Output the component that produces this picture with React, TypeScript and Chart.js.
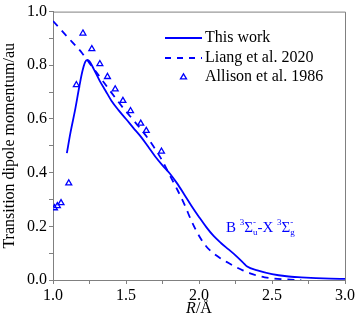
import React, { useEffect, useRef } from "react";
import { Chart, registerables } from "chart.js";
Chart.register(...registerables);

const thisWorkR = [1.095, 1.12, 1.15, 1.18, 1.2, 1.22, 1.235, 1.25, 1.28, 1.32, 1.36, 1.4, 1.45, 1.5, 1.55, 1.6, 1.65, 1.7, 1.75, 1.8, 1.85, 1.9, 1.95, 2.0, 2.05, 2.1, 2.15, 2.2, 2.25, 2.3, 2.33, 2.4, 2.5, 2.6, 2.7, 2.8, 2.9, 3.0];
const thisWorkV = [0.473, 0.55, 0.63, 0.72, 0.775, 0.812, 0.82, 0.815, 0.785, 0.742, 0.705, 0.668, 0.632, 0.6, 0.567, 0.535, 0.498, 0.46, 0.427, 0.397, 0.36, 0.318, 0.275, 0.235, 0.197, 0.164, 0.138, 0.115, 0.092, 0.066, 0.05, 0.036, 0.022, 0.014, 0.01, 0.007, 0.005, 0.004];

const liangR = [1.0, 1.1, 1.2, 1.25, 1.3, 1.35, 1.4, 1.45, 1.5, 1.55, 1.6, 1.65, 1.7, 1.75, 1.8, 1.85, 1.9, 1.95, 2.0, 2.05, 2.1, 2.15, 2.2, 2.25, 2.3, 2.35, 2.4, 2.45, 2.5, 2.6, 2.7];
const liangV = [0.965, 0.905, 0.845, 0.808, 0.772, 0.735, 0.698, 0.662, 0.628, 0.596, 0.563, 0.528, 0.488, 0.443, 0.39, 0.338, 0.282, 0.218, 0.165, 0.125, 0.099, 0.08, 0.064, 0.049, 0.036, 0.025, 0.016, 0.01, 0.006, 0.002, 0.0];

const allisonR = [1.01, 1.03, 1.055, 1.108, 1.16, 1.205, 1.266, 1.321, 1.373, 1.426, 1.479, 1.531, 1.601, 1.639, 1.743];
const allisonV = [0.268, 0.276, 0.287, 0.361, 0.727, 0.919, 0.861, 0.805, 0.757, 0.711, 0.668, 0.63, 0.583, 0.556, 0.479];

const xTickValues = [1.0, 1.25, 1.5, 1.75, 2.0, 2.25, 2.5, 2.75, 3.0];
const legendLabels = ["This work", "Liang et al. 2020", "Allison et al. 1986"];
const yTitle = "Transition dipole momentum/au";

const BLUE = "rgb(0,0,255)";
const GRAY = "#808080";
const SERIF = "\"Liberation Serif\", \"DejaVu Serif\", \"Times New Roman\", Times, serif";

const pts = (xs: number[], ys: number[]) => xs.map((x, i) => ({ x, y: ys[i] }));

export default function App() {
  const ref = useRef<HTMLCanvasElement>(null);
  useEffect(() => {
    document.body.style.margin = "0";
    const extras = {
      id: "extras",
      afterDraw(chart: any) {
        const ctx = chart.ctx as CanvasRenderingContext2D;
        const a = chart.chartArea;
        ctx.save();
        ctx.strokeStyle = GRAY;
        ctx.lineWidth = 1;
        ctx.beginPath();
        ctx.moveTo(a.left, a.top + 0.5);
        ctx.lineTo(a.right + 0.5, a.top + 0.5);
        ctx.lineTo(a.right + 0.5, a.bottom);
        ctx.stroke();

        // x title
        ctx.fillStyle = "#000";
        ctx.textBaseline = "middle";
        ctx.textAlign = "left";
        const r = "R";
        const rest = "/Å";
        ctx.font = `16px ${SERIF}`;
        const wRest = ctx.measureText(rest).width;
        ctx.font = `italic 16px ${SERIF}`;
        const wR = ctx.measureText(r).width;
        const cx = (a.left + a.right) / 2;
        const ty = 309;
        const x0 = cx - (wR + wRest) / 2;
        ctx.fillText(r, x0, ty);
        ctx.font = `16px ${SERIF}`;
        ctx.fillText(rest, x0 + wR, ty);

        // legend
        const lx0 = 165, lx1 = 202, tx = 205;
        const ly = [38, 58, 77];
        ctx.strokeStyle = BLUE;
        ctx.lineWidth = 1.8;
        ctx.beginPath();
        ctx.moveTo(lx0, ly[0]);
        ctx.lineTo(lx1, ly[0]);
        ctx.stroke();
        ctx.setLineDash([6, 6]);
        ctx.beginPath();
        ctx.moveTo(lx0, ly[1]);
        ctx.lineTo(lx1, ly[1]);
        ctx.stroke();
        ctx.setLineDash([]);
        ctx.lineWidth = 1.3;
        const tcx = 183.5, tcy = ly[2], s = 3.2;
        ctx.beginPath();
        ctx.moveTo(tcx, tcy - s);
        ctx.lineTo(tcx + s * 0.95, tcy + s * 0.6);
        ctx.lineTo(tcx - s * 0.95, tcy + s * 0.6);
        ctx.closePath();
        ctx.stroke();
        ctx.fillStyle = "#000";
        ctx.font = `16px ${SERIF}`;
        legendLabels.forEach((t, i) => ctx.fillText(t, tx, ly[i]));

        // annotation
        ctx.fillStyle = BLUE;
        ctx.textBaseline = "alphabetic";
        const base = 232;
        let x = 226;
        const big = `15px ${SERIF}`;
        const small = `9px ${SERIF}`;
        const draw = (t: string, font: string, dy: number) => {
          ctx.font = font;
          ctx.fillText(t, x, base + dy);
          return ctx.measureText(t).width;
        };
        x += draw("B ", big, 0);
        x += draw("3", small, -7);
        x += draw("Σ", big, 0);
        let w1 = draw("u", small, 3);
        let w2 = draw("-", small, -7);
        x += Math.max(w1, w2);
        x += draw("-X ", big, 0);
        x += draw("3", small, -7);
        x += draw("Σ", big, 0);
        draw("g", small, 3);
        draw("-", small, -7);
        ctx.restore();
      },
    };

    const chart = new Chart(ref.current!, {
      type: "scatter",
      data: {
        datasets: [
          {
            label: legendLabels[0],
            data: pts(thisWorkR, thisWorkV),
            showLine: true,
            borderColor: BLUE,
            borderWidth: 1.8,
            pointRadius: 0,
            cubicInterpolationMode: "monotone",
          },
          {
            label: legendLabels[1],
            data: pts(liangR, liangV),
            showLine: true,
            borderColor: BLUE,
            borderWidth: 1.8,
            borderDash: [7, 6],
            pointRadius: 0,
            cubicInterpolationMode: "monotone",
          },
          {
            label: legendLabels[2],
            data: pts(allisonR, allisonV),
            showLine: false,
            pointStyle: "triangle",
            pointRadius: 3.4,
            borderColor: BLUE,
            backgroundColor: "rgba(0,0,0,0)",
            pointBorderWidth: 1.3,
          } as any,
        ],
      },
      options: {
        responsive: false,
        animation: false,
        devicePixelRatio: 1,
        layout: { padding: { top: 6, right: 9, left: 0, bottom: 0 } },
        plugins: { legend: { display: false }, tooltip: { enabled: false } },
        scales: {
          x: {
            type: "linear",
            min: 1,
            max: 3,
            afterFit: (s: any) => { s.height = 45; },
            afterBuildTicks: (s: any) => { s.ticks = xTickValues.map((v) => ({ value: v })); },
            ticks: {
              autoSkip: false,
              maxRotation: 0,
              padding: 2,
              color: "#000",
              font: { family: SERIF, size: 16 },
              callback: (v: any) => (Math.abs((Number(v) * 2) % 1) < 1e-6 ? Number(v).toFixed(1) : ""),
            },
            grid: { drawOnChartArea: false, drawTicks: true, tickLength: 4, color: GRAY },
            border: { color: GRAY, width: 1 },
          },
          y: {
            type: "linear",
            min: 0,
            max: 1,
            afterFit: (s: any) => { s.width = 53; },
            ticks: {
              stepSize: 0.1,
              autoSkip: false,
              padding: 2,
              color: "#000",
              font: { family: SERIF, size: 16 },
              callback: (v: any) => (Math.round(Number(v) * 10) % 2 === 0 ? Number(v).toFixed(1) : ""),
            },
            grid: { drawOnChartArea: false, drawTicks: true, tickLength: 4, color: GRAY },
            border: { color: GRAY, width: 1 },
            title: {
              display: true,
              text: yTitle,
              color: "#000",
              font: { family: SERIF, size: 16 },
              padding: { top: 0, bottom: 0 },
            },
          },
        },
      },
      plugins: [extras],
    } as any);
    let alive = true;
    if ((document as any).fonts && (document as any).fonts.load) {
      Promise.all([
        (document as any).fonts.load(`16px "Liberation Serif"`),
        (document as any).fonts.load(`italic 16px "Liberation Serif"`),
      ]).then(() => { if (alive) chart.update(); }).catch(() => {});
    }
    return () => { alive = false; chart.destroy(); };
  }, []);
  return (
    <div style={{ width: 357, height: 325 }}>
      <canvas ref={ref} width={357} height={325} style={{ display: "block" }} />
    </div>
  );
}
